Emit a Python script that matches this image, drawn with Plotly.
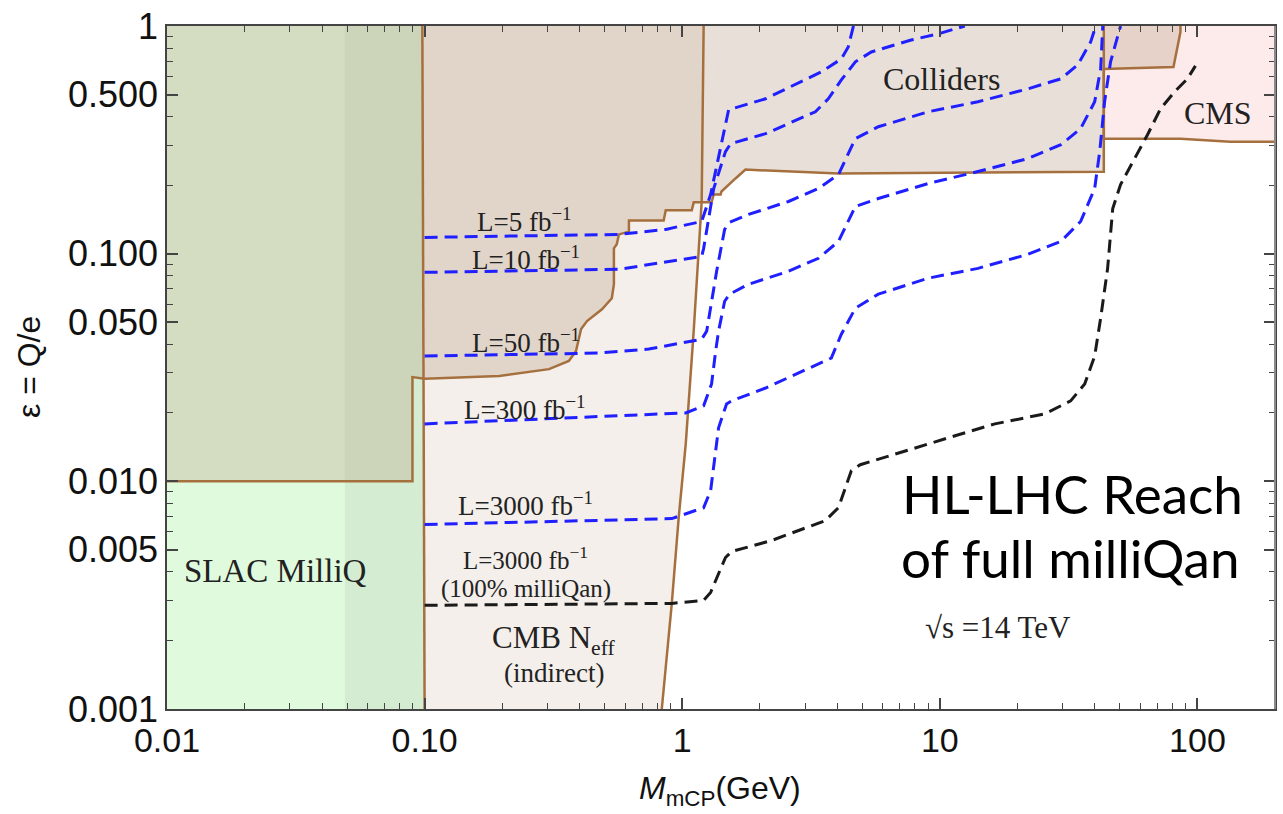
import math
import plotly.graph_objects as go

# ---- excluded regions (mass in GeV, epsilon = Q/e) ----
slac_x = [0.01, 0.1, 0.1, 0.01]
slac_y = [0.001, 0.001, 1.0, 1.0]

band_x = [0.049, 0.1, 0.1, 0.049]
band_y = [0.001, 0.001, 1.0, 1.0]

cmb_left_x = [0.098, 0.1]
cmb_left_y = [1.0, 0.001]
cmb_right_x = [1.211, 1.190, 1.108, 1.032, 0.969, 0.911, 0.833]
cmb_right_y = [1.0, 0.1695, 0.0457, 0.01462, 0.00693, 0.00291, 0.001]

colliders_x = [0.01, 0.0897, 0.0897, 0.1, 0.195, 0.304, 0.363, 0.387, 0.405, 0.427,
               0.488, 0.519, 0.533, 0.543, 0.543, 0.557, 0.568, 0.621, 0.621, 0.847,
               0.863, 1.089, 1.108, 1.30, 1.325, 1.41, 1.42, 1.61, 1.76, 4.04,
               43.3, 43.3, 80.7, 85.9, 85.9]
colliders_y = [0.01, 0.01, 0.0287, 0.0282, 0.029, 0.0311, 0.0338, 0.0374, 0.0467, 0.0506,
               0.057, 0.0618, 0.0637, 0.0734, 0.1055, 0.110, 0.1215, 0.125, 0.140, 0.140,
               0.155, 0.155, 0.168, 0.168, 0.182, 0.182, 0.1875, 0.214, 0.234, 0.225,
               0.229, 0.648, 0.661, 0.941, 1.0]

cms_x = [43.3, 43.3, 85.9, 134.0, 200.0, 200.0]
cms_y = [1.0, 0.32, 0.32, 0.31, 0.31, 1.0]

# ---- milliQan projected reach ----
l5_x = [0.1, 0.568, 0.863, 1.190, 1.289, 1.384, 1.514, 2.106, 3.468, 4.147, 4.41, 4.62]
l5_y = [0.1179, 0.1215, 0.1278, 0.1385, 0.182, 0.2616, 0.4286, 0.479, 0.629, 0.717, 0.809, 1.0]

l10_x = [0.1, 0.568, 1.190, 1.211, 1.325, 1.472, 1.541, 2.106, 3.288, 3.69, 4.147, 4.70,
         5.42, 7.74, 9.85, 12.5]
l10_y = [0.0828, 0.0854, 0.0973, 0.1055, 0.1932, 0.2807, 0.304, 0.3365, 0.420, 0.479,
         0.580, 0.696, 0.769, 0.868, 0.923, 1.0]

l50_x = [0.1, 0.475, 0.742, 1.190, 1.2445, 1.36, 1.461, 1.527, 1.81, 2.585, 3.379, 4.04,
         4.70, 5.77, 9.0, 14.06, 21.96, 29.5, 34.3, 38.5, 40.3]
l50_y = [0.0355, 0.0366, 0.0381, 0.0421, 0.0457, 0.0837, 0.1278, 0.1372, 0.1487, 0.1695,
         0.1932, 0.2226, 0.320, 0.361, 0.420, 0.4647, 0.5297, 0.586, 0.675, 0.851, 1.0]

l300_x = [0.1, 1.032, 1.211, 1.30, 1.348, 1.384, 1.461, 1.527, 1.81, 2.585, 3.379, 4.04,
          4.70, 5.77, 9.0, 14.06, 21.96, 29.5, 35.2, 39.9, 42.1, 42.9]
l300_y = [0.01788, 0.01998, 0.02145, 0.02678, 0.03734, 0.0457, 0.0618, 0.0664, 0.0734,
          0.0837, 0.0954, 0.1132, 0.1612, 0.1747, 0.2032, 0.2294, 0.2616, 0.301, 0.354,
          0.4647, 0.648, 1.0]

l3000_x = [0.1, 0.911, 1.211, 1.289, 1.384, 1.486, 1.555, 2.106, 3.79, 4.147, 4.70, 5.77,
           9.0, 14.06, 21.96, 29.5, 35.2, 39.9, 41.74, 43.6, 46.0, 50.3]
l3000_y = [0.00646, 0.00686, 0.00766, 0.0091, 0.01718, 0.02188, 0.02256, 0.0257, 0.0348,
           0.0443, 0.0576, 0.0664, 0.078, 0.0862, 0.0993, 0.1132, 0.1385, 0.1932, 0.2807,
           0.4647, 0.696, 1.0]

full_x = [0.1, 0.911, 1.211, 1.289, 1.472, 1.555, 2.222, 3.594, 4.04, 4.533, 4.912, 7.335,
          11.46, 16.36, 25.55, 32.2, 36.5, 39.9, 42.1, 44.8, 46.9, 50.3, 57.0, 64.0, 71.9,
          81.5, 91.4, 98.2]
full_y = [0.002853, 0.00291, 0.003, 0.003253, 0.004629, 0.004918, 0.005496, 0.006725,
          0.00766, 0.01113, 0.01183, 0.01362, 0.01585, 0.01788, 0.01978, 0.02256, 0.02678,
          0.0355, 0.0521, 0.0862, 0.158, 0.2012, 0.2616, 0.333, 0.433, 0.514, 0.586, 0.668]

# ---- axis ticks ----
x_tickvals = [0.01, 0.1, 1, 10, 100]
x_ticktext = ["0.01", "0.10", "1", "10", "100"]
y_tickvals = [1, 0.5, 0.1, 0.05, 0.01, 0.005, 0.001]
y_ticktext = ["1", "0.500", "0.100", "0.050", "0.010", "0.005", "0.001"]
x_minor = [m * d for d in (0.01, 0.1, 1, 10) for m in range(2, 10)]
y_minor = [m * d for d in (0.001, 0.01, 0.1) for m in (2, 3, 4, 6, 7, 8, 9)]

BROWN = "rgb(166,112,62)"
BLUE = "#1f1fff"
DASH = "13px,7px"

fig = go.Figure()


def area(x, y, color):
    fig.add_trace(go.Scatter(x=x, y=y, mode="lines", fill="toself", fillcolor=color,
                             line=dict(width=0), hoverinfo="skip", showlegend=False))


def path(x, y, color, width, dash=None):
    fig.add_trace(go.Scatter(x=x, y=y, mode="lines",
                             line=dict(color=color, width=width, dash=dash),
                             hoverinfo="skip", showlegend=False))


area(slac_x, slac_y, "rgb(224,250,222)")
area(band_x, band_y, "rgba(0,0,0,0.05)")
area(cmb_left_x + cmb_right_x[::-1], cmb_left_y + cmb_right_y[::-1], "rgb(244,239,234)")
area(cms_x, cms_y, "rgb(253,234,234)")
area([0.01] + colliders_x + [0.01], [1.0] + colliders_y + [1.0], "rgba(189,166,144,0.35)")

path(colliders_x, colliders_y, BROWN, 2.5)
path(cms_x[:5], cms_y[:5], BROWN, 2.5)
path(cmb_left_x, cmb_left_y, BROWN, 2.5)
path(cmb_right_x, cmb_right_y, BROWN, 2.5)

for cx, cy in [(l5_x, l5_y), (l10_x, l10_y), (l50_x, l50_y), (l300_x, l300_y),
               (l3000_x, l3000_y)]:
    path(cx, cy, BLUE, 3, DASH)
path(full_x, full_y, "#1a1a1a", 3, DASH)

SERIF = "Liberation Serif, Times New Roman, serif"
SANS = "Liberation Sans, Arial, sans-serif"
HUMANIST = "Lato, Open Sans, sans-serif"


def label(text, lx, ly, size, family=SERIF, color="#222"):
    fig.add_annotation(x=lx, y=ly, xref="x", yref="y", text=text, showarrow=False,
                       font=dict(family=family, size=size, color=color),
                       xanchor="center", yanchor="middle")


# label positions given as log10 coordinates
label("L=5 fb<sup>−1</sup>", -0.614, -0.85, 27)
label("L=10 fb<sup>−1</sup>", -0.606, -1.02, 27)
label("L=50 fb<sup>−1</sup>", -0.606, -1.384, 27)
label("L=300 fb<sup>−1</sup>", -0.610, -1.677, 27)
label("L=3000 fb<sup>−1</sup>", -0.610, -2.098, 27)
label("L=3000 fb<sup>−1</sup>", -0.610, -2.335, 25)
label("(100% milliQan)", -0.608, -2.475, 25)
label("CMB N<sub>eff</sub>", -0.498, -2.698, 31)
label("(indirect)", -0.498, -2.842, 27)
label("Colliders", 1.005, -0.232, 32)
label("CMS", 2.078, -0.381, 32)
label("SLAC MilliQ", -1.578, -2.396, 33)
label("√s =14 TeV", 1.226, -2.641, 31)
label("HL-LHC Reach", 1.516, -2.054, 53, family=HUMANIST, color="#000")
label("of full milliQan", 1.508, -2.334, 53, family=HUMANIST, color="#000")

fig.add_annotation(x=0.499, y=-0.12, xref="paper", yref="paper",
                   text="<i>M</i><sub>mCP</sub>(GeV)", showarrow=False,
                   font=dict(family=SANS, size=32, color="#111"),
                   xanchor="center", yanchor="middle")
fig.add_annotation(x=-0.125, y=0.5, xref="paper", yref="paper", text="ε = Q/e",
                   textangle=-90, showarrow=False,
                   font=dict(family=SANS, size=32, color="#111"),
                   xanchor="center", yanchor="middle")

axis_common = dict(type="log", showgrid=False, zeroline=False, showline=True,
                   linecolor="#444", linewidth=1.5, mirror="ticks", ticks="inside",
                   ticklen=11, tickwidth=1.5, tickcolor="#444", tickmode="array")

fig.update_xaxes(**axis_common, range=[-2, math.log10(200)], tickvals=x_tickvals,
                 ticktext=x_ticktext, tickfont=dict(family=SANS, size=34, color="#111"),
                 minor=dict(tickvals=x_minor, ticks="inside", ticklen=6, tickwidth=1.2,
                            tickcolor="#444", showgrid=False))
fig.update_yaxes(**axis_common, range=[-3, 0], tickvals=y_tickvals, ticktext=y_ticktext,
                 tickfont=dict(family=SANS, size=36, color="#111"),
                 minor=dict(tickvals=y_minor, ticks="inside", ticklen=6, tickwidth=1.2,
                            tickcolor="#444", showgrid=False))

# lighter right-hand frame edge
fig.add_shape(type="line", xref="paper", yref="paper", x0=1, x1=1, y0=0, y1=1,
              line=dict(color="#8a8a8a", width=2))

fig.update_layout(width=1283, height=814, margin=dict(l=167, r=6, t=24, b=105),
                  plot_bgcolor="white", paper_bgcolor="white", showlegend=False)

fig.write_html("out.html")
